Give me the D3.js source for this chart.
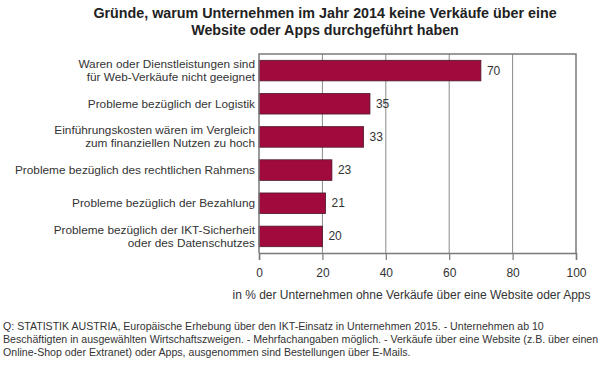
<!DOCTYPE html>
<html><head><meta charset="utf-8">
<script src="https://cdn.jsdelivr.net/npm/d3@7"></script>
<style>body{margin:0;background:#fff}svg{display:block;font-family:"Liberation Sans",Arial,Helvetica,sans-serif}</style>
</head><body><svg id="c" width="603" height="365"></svg>
<script>
const categories = [
  ["Waren oder Dienstleistungen sind", "für Web-Verkäufe nicht geeignet"],
  ["Probleme bezüglich der Logistik"],
  ["Einführungskosten wären im Vergleich", "zum finanziellen Nutzen zu hoch"],
  ["Probleme bezüglich des rechtlichen Rahmens"],
  ["Probleme bezüglich der Bezahlung"],
  ["Probleme bezüglich der IKT-Sicherheit", "oder des Datenschutzes"]
];
const values = [70, 35, 33, 23, 21, 20];
const xTicks = [0, 20, 40, 60, 80, 100];
const titleLines = ["Gründe, warum Unternehmen im Jahr 2014 keine Verkäufe über eine", "Website oder Apps durchgeführt haben"];
const axisTitle = "in % der Unternehmen ohne Verkäufe über eine Website oder Apps";
const footnote = [
  "Q: STATISTIK AUSTRIA, Europäische Erhebung über den IKT-Einsatz in Unternehmen 2015. - Unternehmen ab 10",
  "Beschäftigten in ausgewählten Wirtschaftszweigen. - Mehrfachangaben möglich. - Verkäufe über eine Website (z.B. über einen",
  "Online-Shop oder Extranet) oder Apps, ausgenommen sind Bestellungen über E-Mails."
];

const svg = d3.select("#c");
const L = 259, R = 576, T = 54, B = 253;
const x = d3.scaleLinear().domain([0, 100]).range([L, R]);
const y = d3.scaleBand().domain(d3.range(values.length)).range([T, B]).paddingInner(0.38).paddingOuter(0.19);
const textCol = "#333";

// title
svg.append("g").selectAll("text").data(titleLines).join("text")
  .attr("x", 325).attr("y", (d, i) => 18 + i * 17)
  .attr("text-anchor", "middle").attr("font-weight", "bold").attr("font-size", 14.3)
  .attr("fill", "#222").text(d => d);

// gridlines
svg.append("g").selectAll("line").data(xTicks.slice(1, -1)).join("line")
  .attr("x1", d => x(d)).attr("x2", d => x(d)).attr("y1", T).attr("y2", B)
  .attr("stroke", "#8a8a8a").attr("stroke-width", 1);

// bars
svg.append("g").selectAll("rect").data(values).join("rect")
  .attr("x", x(0)).attr("y", (d, i) => y(i))
  .attr("width", d => x(d) - x(0)).attr("height", y.bandwidth())
  .attr("fill", "#a00a3c").attr("stroke", "#4a1a28").attr("stroke-width", 0.8);

// frame
svg.append("path")
  .attr("d", `M${L},${B}V${T}H${R}V${B}`)
  .attr("fill", "none").attr("stroke", "#7a7a7a").attr("stroke-width", 1.5);

// bottom axis
const ax = svg.append("g").attr("transform", `translate(0,${B})`)
  .call(d3.axisBottom(x).tickValues(xTicks).tickSize(7).tickPadding(8));
ax.select(".domain").attr("stroke", "#7a7a7a").attr("stroke-width", 1.5);
ax.selectAll(".tick line").attr("stroke", "#7a7a7a").attr("stroke-width", 1.2);
ax.selectAll(".tick text").attr("font-size", 12).attr("fill", textCol)
  .attr("font-family", "Liberation Sans, Arial, sans-serif");

// axis title
svg.append("text").attr("x", (L + R) / 2 - 6).attr("y", 299).attr("text-anchor", "middle")
  .attr("font-size", 12).attr("fill", textCol).text(axisTitle);

// value labels
svg.append("g").selectAll("text").data(values).join("text")
  .attr("x", d => x(d) + 6).attr("y", (d, i) => y(i) + y.bandwidth() / 2 + 4)
  .attr("font-size", 12).attr("fill", textCol).text(d => d);

// category labels
const cg = svg.append("g").selectAll("text").data(categories).join("text")
  .attr("text-anchor", "end").attr("font-size", 11.8).attr("fill", textCol)
  .attr("transform", (d, i) => `translate(255,${y(i) + y.bandwidth() / 2})`);
cg.selectAll("tspan").data(d => d.map((t, j) => ({t, j, n: d.length}))).join("tspan")
  .attr("x", 0).attr("y", d => (d.j - (d.n - 1) / 2) * 13 + 4).text(d => d.t);

// footnote
svg.append("g").selectAll("text").data(footnote).join("text")
  .attr("x", 3).attr("y", (d, i) => 330 + i * 13)
  .attr("font-size", 10.6).attr("fill", textCol).text(d => d);
</script></body></html>
